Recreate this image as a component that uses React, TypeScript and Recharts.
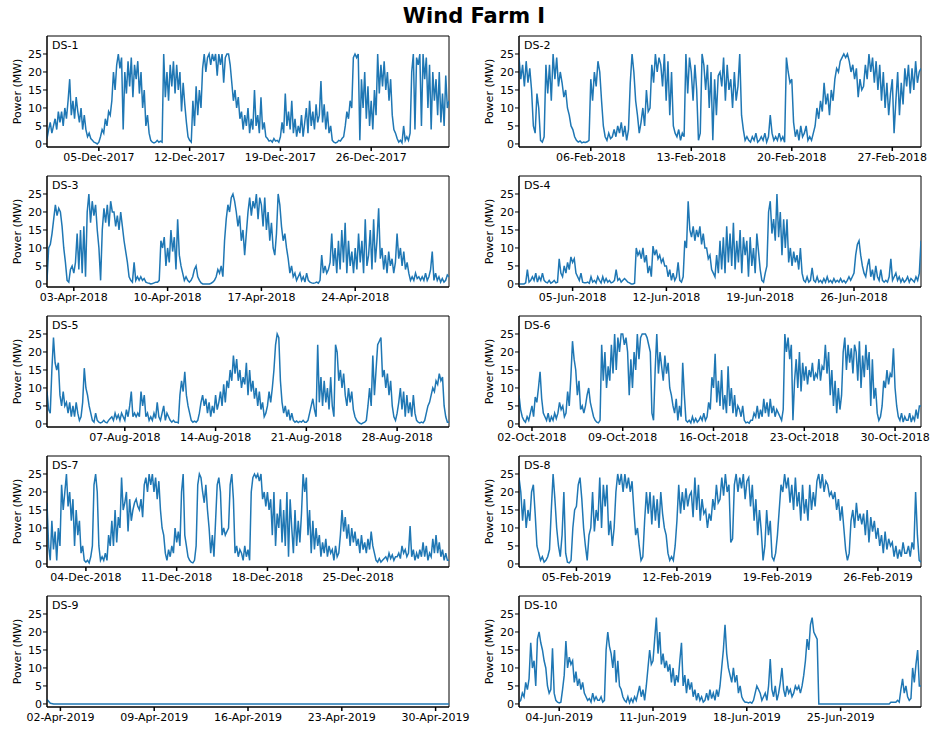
import { LineChart, Line, XAxis, YAxis, ReferenceArea } from "recharts";

const yTicks = [0, 5, 10, 15, 20, 25];

// DS-1, Dec 2017 (3-hourly, one row per day)
const ds1Values = [
  1.5, 4, 6, 3, 5, 7, 4, 9,
  6, 9, 5, 10, 7, 12, 18, 8,
  12, 7, 13, 9, 6, 10, 4, 8,
  4, 2, 3, 1.5, 1, 0.5, 0.3, 0,
  0.5, 2, 4, 3, 7, 5, 9, 8,
  12, 20, 15, 22, 25, 21, 24, 4,
  20, 14, 23, 16, 24, 13, 22, 18,
  23, 14, 20, 10, 15, 5, 8, 3,
  1, 0.5, 0.3, 0.5, 1, 0.5, 0.8, 0.5,
  25, 13, 20, 12, 22, 16, 23, 14,
  22, 15, 20, 9, 17, 11, 6, 2,
  1, 0.5, 12, 5, 16, 8, 15, 10,
  21, 25, 20, 24, 25, 22, 25, 23,
  25, 19, 25, 22, 25, 17, 24, 25,
  25, 22, 17, 12, 15, 10, 13, 7,
  9, 4, 8, 5, 10, 3, 7, 4,
  15, 5, 8, 3, 13, 4, 6, 2,
  1.5, 0.8, 1, 0.5, 1.5, 0.8, 1, 0.5,
  2, 6, 3, 14, 5, 9, 4, 12,
  3, 7, 2, 5, 3, 8, 2, 6,
  10, 3, 12, 5, 9, 4, 11, 6,
  8, 17.5, 6, 11, 4, 9, 3, 5,
  1, 0.5, 0.3, 0.5, 1, 0.8, 1.5, 2,
  5, 9, 7, 12, 10, 24, 25, 24,
  25, 1, 18, 10, 20, 7, 16, 5,
  12, 4, 15, 8, 25, 14, 22, 16,
  23, 15, 20, 12, 18, 8, 4, 3,
  1.5, 0.5, 1, 0.3, 5, 1, 2, 1,
  3, 20, 25, 4, 24, 22, 25, 5,
  25, 18, 24, 10, 22, 4, 20, 12,
  18, 8, 20, 6, 14, 5, 19, 10,
  12,
];
const ds1Ticks = [4, 11, 18, 25];
const ds1TickLabels = ["05-Dec-2017", "12-Dec-2017", "19-Dec-2017", "26-Dec-2017"];

// DS-2, Feb 2018
const ds2Values = [
  24, 18, 22, 16, 23, 17, 21, 15,
  5, 3, 14, 10, 1, 0.5, 2, 22,
  14, 22, 12, 25, 18, 24, 16, 20,
  17, 13, 15, 10, 8, 5, 4, 2,
  1, 0.5, 0.8, 0.3, 0.5, 0.4, 0.6, 1,
  18, 12, 20, 16, 23, 20, 12, 5,
  2, 1, 3, 1.5, 2, 4, 2, 5,
  3, 6, 2, 5, 1, 4, 17, 25,
  20, 12, 8, 3, 6, 10, 5, 15,
  9, 10, 22, 17, 25, 20, 24, 22,
  16, 25, 12, 23, 8, 20, 5, 3,
  2, 4, 1, 3, 2, 25, 14, 24,
  20, 12, 22, 15, 1, 3, 25, 22,
  15, 22, 10, 20, 1, 18, 8, 19,
  20, 16, 24, 12, 22, 15, 18, 10,
  20, 12, 16, 25, 8, 4, 1, 2,
  1, 0.5, 2, 1, 3, 0.5, 1, 2,
  1, 3, 0.5, 2, 8, 3, 1, 2,
  1, 3, 1, 2, 0.5, 24, 20, 17,
  18, 6, 2, 4, 1, 5, 2, 3,
  5, 1, 2, 1, 3, 5, 10, 7,
  12, 9, 17, 11, 14, 8, 15, 12,
  18, 21, 20, 23, 24, 25, 24, 25,
  23, 20, 22, 18, 21, 13, 18, 15,
  16, 22, 18, 25, 20, 24, 17, 23,
  15, 22, 12, 20, 10, 17, 8, 14,
  18, 3, 12, 20, 8, 17, 11, 21,
  16, 22, 14, 21, 15, 23, 17, 20,
  21,
];
const ds2Ticks = [5, 12, 19, 26];
const ds2TickLabels = ["06-Feb-2018", "13-Feb-2018", "20-Feb-2018", "27-Feb-2018"];

// DS-3, Apr 2018
const ds3Values = [
  1, 10, 11, 14, 18, 22, 19, 21,
  20, 16, 10, 6, 1, 0.5, 4, 5,
  3, 6, 14, 4, 15, 3, 16, 2,
  20, 25, 17, 23, 19, 22, 15, 10,
  1, 15, 21, 17, 22, 16, 23, 20,
  20, 16, 19, 15, 20, 16, 12, 9,
  6, 2, 1, 0.5, 6, 1, 2, 1,
  2, 1, 1.5, 0.5, 0.3, 0.2, 0, 0.1,
  0.3, 0.5, 0.5, 1, 12, 10, 13, 5,
  10, 6, 15, 9, 13, 4, 18, 8,
  5, 3, 1, 2, 1, 0.5, 1, 2,
  4, 5, 2, 1, 0.3, 0, 0, 0,
  0, 0, 0.2, 0.5, 1, 2, 4, 3,
  5, 2, 12, 18, 22, 20, 24, 25,
  23, 20, 16, 19, 12, 15, 8, 14,
  20, 24, 19, 23, 21, 25, 18, 24,
  22, 16, 24, 15, 20, 12, 17, 10,
  8, 14, 25, 22, 16, 12, 14, 10,
  7, 3, 5, 2, 3, 1, 2, 3,
  1, 2, 0.5, 3, 1, 0.5, 0.3, 0.2,
  0.3, 0.5, 0.2, 1, 8, 3, 5, 3,
  4, 6, 14, 5, 10, 3, 12, 4,
  15, 6, 17, 3, 12, 5, 9, 3,
  10, 4, 14, 6, 12, 3, 18, 5,
  8, 15, 4, 18, 6, 12, 21, 7,
  10, 4, 8, 3, 9, 5, 7, 3,
  6, 14, 7, 10, 5, 9, 4, 6,
  3, 1, 2, 1, 3, 1.5, 2, 1,
  2, 1, 3, 1, 2, 4, 9, 1,
  3, 1, 2, 0.5, 1.5, 0.5, 1, 2.5,
  2,
];
const ds3Ticks = [2, 9, 16, 23];
const ds3TickLabels = ["03-Apr-2018", "10-Apr-2018", "17-Apr-2018", "24-Apr-2018"];

// DS-4, Jun 2018
const ds4Values = [
  0, 0, 0, 0, 0.3, 4, 0.5, 1,
  2, 1, 3, 0.5, 2, 1, 3, 1,
  0.5, 0.3, 1, 0.2, 0.5, 1, 0.3, 0.5,
  7, 3, 2, 5, 3, 6, 4, 7.5,
  6, 7, 3, 2, 1, 3, 0.5, 0.3,
  0.3, 0.5, 0.2, 2, 0.5, 1, 0.3, 2,
  1, 0.3, 2, 0.5, 1.5, 0.5, 1, 0.3,
  0.5, 1, 4, 1, 1.5, 0.5, 1, 1.5,
  1, 0.5, 0.3, 0, 0, 0.2, 10, 8,
  9, 7, 10, 6, 8, 3, 5, 2,
  10.5, 8, 9.5, 7, 8, 6, 7, 5,
  5, 2, 4, 1, 3, 1, 2, 6,
  1, 0.5, 2, 12, 10, 23, 15, 13,
  16, 12, 15, 13, 16, 11, 14, 10,
  10, 7, 8, 4, 3, 2, 8, 3,
  12, 4, 13, 3, 16, 6, 14, 5,
  17, 4, 12, 6, 15, 3, 13, 8,
  12, 2, 13, 5, 10, 3, 14, 9,
  4, 1, 0.5, 3, 5, 20, 23, 14,
  18, 12, 25, 13, 20, 8, 18, 10,
  18, 6, 10, 5, 9, 6, 8, 4,
  10, 3, 1, 0.5, 2, 0.5, 1, 4.5,
  1, 0.5, 2, 0.5, 1, 0.3, 1.5, 0.5,
  2, 0.5, 1, 0.3, 1.5, 0.5, 1, 0.5,
  1.5, 0.5, 1, 0.3, 1, 2, 1, 2,
  3, 8, 11, 12, 8, 5, 3, 2,
  5, 7, 2, 4, 1, 5, 2, 1,
  4, 1, 0.5, 1, 0.5, 2, 7, 1,
  2, 3, 1, 2, 0.5, 1.5, 0.5, 1,
  2, 0.5, 1.5, 1, 0.5, 2, 1, 3,
  12,
];
const ds4Ticks = [4, 11, 18, 25];
const ds4TickLabels = ["05-Jun-2018", "12-Jun-2018", "19-Jun-2018", "26-Jun-2018"];

// DS-5, Aug 2018
const ds5Values = [
  9, 4, 3, 15, 24, 17, 15, 17,
  8, 5, 9, 5, 6, 3, 6, 2,
  5, 2, 6, 3, 1, 2, 6, 15.5,
  10, 8, 5, 3, 1, 0.5, 3, 1,
  0.5, 0.3, 0.5, 1, 0.5, 0.3, 1, 1.5,
  2, 1, 3, 1.5, 2.5, 1, 3, 2,
  1, 4, 2, 5, 9, 2, 3, 2,
  3, 2, 9, 5, 8, 2, 3, 1,
  2, 1, 3, 1.5, 6, 2, 1, 3,
  5, 1, 3, 2, 1, 0.5, 1, 0.5,
  0.5, 0.3, 8, 12, 9, 14.5, 8, 5,
  3, 1, 0.5, 0.8, 0.5, 1, 3, 6,
  8, 5, 7, 3, 6, 2, 5, 3,
  8, 4, 6, 9, 5, 11, 6, 12,
  10, 15, 12, 19, 14, 18, 12, 15,
  10, 13, 11, 17, 8, 15, 9, 12,
  7, 10, 5, 9, 4, 6, 2, 3,
  5, 9, 6, 10, 15, 22, 25, 24,
  12, 6, 3, 5, 2, 4, 1, 3,
  1, 0.5, 0.8, 0.4, 0.7, 0.5, 1, 0.5,
  0.5, 1, 3, 5, 7, 4, 2, 22,
  6, 13, 5, 12, 6, 10, 4, 13,
  5, 2, 22, 20, 12, 15, 10, 14,
  8, 5, 10, 6, 9, 4, 2, 1,
  0.5, 0.2, 0, 0.3, 0.5, 1, 5, 10,
  5, 19, 8, 15, 22, 23, 24, 13,
  15, 10, 14, 8, 12, 5, 2, 1,
  3, 6, 10, 4, 9, 2, 8, 3,
  6, 2, 8, 3, 1, 0.5, 0.3, 0.5,
  0.3, 1, 3, 5, 6, 8, 10, 9,
  12, 11, 14, 12, 13, 5, 2, 0.5,
  0.5,
];
const ds5Ticks = [6, 13, 20, 27];
const ds5TickLabels = ["07-Aug-2018", "14-Aug-2018", "21-Aug-2018", "28-Aug-2018"];

// DS-6, Oct 2018
const ds6Values = [
  8, 4, 2, 1, 0.5, 2, 1, 3,
  5, 2, 7.5, 6, 10, 14.5, 7, 3,
  2, 1, 3, 0.5, 2, 1, 3, 1.5,
  3, 6, 4, 5, 2, 3, 9, 5,
  13, 23, 18, 15, 8, 12, 4, 5,
  3, 5, 8, 10, 6, 4, 2, 1,
  0.5, 0.3, 1, 22, 12, 20, 10, 16,
  12, 22, 14, 25, 15, 24, 20, 25,
  25, 22, 24, 20, 8, 18, 10, 20,
  15, 25, 18, 24, 25, 25, 25, 24,
  22, 20, 3, 1, 15, 25, 14, 20,
  16, 12, 19, 14, 17, 10, 8, 5,
  3, 7, 1, 5, 2, 17, 8, 1,
  0.5, 1, 0.3, 2, 0.5, 1.5, 0.5, 1,
  2, 1, 3, 1, 2, 6, 4, 13,
  10, 19.5, 6, 12, 5, 15, 4, 8,
  3, 16, 5, 10, 3, 8, 2, 5,
  4, 2, 5, 1, 0.3, 0.5, 0.2, 1,
  1, 3, 2, 5, 1.5, 4, 2, 7,
  3, 6, 2, 7, 3, 5, 2, 4,
  3, 2, 1, 4, 25, 20, 24, 18,
  22, 1, 12, 18, 10, 20, 9, 17,
  12, 16, 11, 15, 13, 17, 12, 14,
  13, 18, 12, 16, 15, 22, 14, 20,
  8, 15, 5, 12, 3, 10, 4, 8,
  20, 24, 15, 22, 17, 21, 14, 22,
  20, 12, 23, 10, 19, 13, 22, 15,
  20, 5, 18, 7, 10, 3, 1, 2,
  5, 12, 10, 15, 11, 14, 13, 21,
  10, 5, 2, 1, 3, 0.5, 2, 1,
  1, 3, 0.5, 2, 1, 4, 1.5, 5,
  5,
];
const ds6Ticks = [1, 8, 15, 22, 29];
const ds6TickLabels = ["02-Oct-2018", "09-Oct-2018", "16-Oct-2018", "23-Oct-2018", "30-Oct-2018"];

// DS-7, Dec 2018
const ds7Values = [
  17, 5, 1, 12, 4, 9, 1, 10,
  5, 22, 15, 20, 25, 16, 20, 12,
  18, 5, 15, 8, 12, 3, 5, 1,
  0.5, 1, 0.3, 2, 5, 22, 25, 20,
  5, 1, 2, 1, 3, 1, 8, 5,
  12, 5, 15, 6, 13, 10, 24, 15,
  17, 20, 9, 18, 12, 15, 17, 18,
  16, 15, 18, 13, 22, 24, 20, 25,
  22, 25, 20, 24, 18, 23, 15, 10,
  8, 3, 1, 4, 2, 5, 3, 10,
  6, 9, 5, 20, 25, 8, 5, 2,
  1, 0.5, 0.3, 1, 5, 22, 25, 24,
  20, 17, 22, 15, 10, 3, 8, 2,
  12, 22, 24, 20, 8, 10, 8, 9,
  10, 22, 25, 18, 3, 5, 2, 4,
  3, 1, 5, 2, 4, 1, 20, 24,
  25, 24, 25, 23, 25, 18, 20, 16,
  20, 15, 18, 8, 20, 5, 14, 10,
  18, 6, 15, 5, 20, 2, 18, 10,
  3, 15, 5, 12, 6, 14, 25, 20,
  24, 8, 15, 3, 12, 4, 10, 5,
  8, 2, 6, 3, 7, 2, 5, 3,
  4, 1, 5, 2, 3, 8, 15, 9,
  13, 7, 11, 5, 10, 6, 9, 5,
  7, 3, 8, 4, 6, 3, 7, 4,
  9, 5, 3, 1, 0.5, 1.5, 0.5, 1,
  1.5, 2, 1, 3, 1.5, 2.5, 1, 2,
  2, 3, 1.5, 5, 3, 4, 2, 3,
  10.5, 2, 4, 1, 3, 1.5, 4, 2,
  6, 2, 5, 1, 3, 2, 7, 3,
  8, 3, 6, 2, 4, 1, 3, 1,
  1,
];
const ds7Ticks = [3, 10, 17, 24];
const ds7TickLabels = ["04-Dec-2018", "11-Dec-2018", "18-Dec-2018", "25-Dec-2018"];

// DS-8, Feb 2019
const ds8Values = [
  24, 20, 12, 18, 10, 15, 12, 20,
  22, 14, 5, 3, 1, 2, 0.5, 1,
  2, 4, 15, 25, 18, 10, 5, 2,
  8, 20, 3, 0.5, 0.3, 1, 10, 15,
  16, 22, 24, 18, 10, 5, 1, 8,
  10, 20, 9, 15, 12, 24, 10, 22,
  16, 22, 8, 12, 5, 10, 20, 25,
  22, 25, 20, 25, 21, 24, 20, 23,
  15, 8, 10, 5, 1, 2, 12, 20,
  14, 20, 11, 19, 12, 18, 10, 20,
  14, 10, 8, 3, 1, 2, 1, 5,
  12, 22, 14, 20, 15, 21, 16, 19,
  20, 13, 24, 15, 22, 12, 18, 14,
  15, 10, 14, 12, 18, 15, 22, 17,
  18, 24, 19, 25, 20, 22, 6, 7,
  22, 25, 20, 24, 21, 25, 18, 23,
  24, 16, 22, 12, 18, 8, 15, 9,
  1, 5, 15, 8, 12, 2, 1, 3,
  8, 15, 22, 20, 25, 21, 24, 17,
  22, 15, 24, 16, 20, 12, 22, 14,
  18, 12, 22, 15, 20, 16, 23, 25,
  21, 25, 20, 23, 22, 19, 20, 18,
  20, 15, 18, 12, 16, 10, 4, 1,
  3, 12, 15, 10, 17, 12, 14, 11,
  14, 8, 15, 6, 13, 9, 12, 7,
  10, 5, 8, 3, 9, 4, 7, 5,
  6, 2, 5, 1.5, 4, 2, 6, 3,
  3, 5, 2, 6, 4, 20, 8, 1,
  0.5,
];
const ds8Ticks = [4, 11, 18, 25];
const ds8TickLabels = ["05-Feb-2019", "12-Feb-2019", "19-Feb-2019", "26-Feb-2019"];

// DS-9, Apr 2019 (6-hourly; the farm sits at zero all month)
const ds9Values = [
  1.2, 0.2, 0, 0, 0, 0, 0, 0, 0, 0, 0, 0, 0, 0, 0, 0,
  0, 0, 0, 0, 0, 0, 0, 0, 0, 0, 0, 0, 0, 0, 0, 0,
  0, 0, 0, 0, 0, 0, 0, 0, 0, 0, 0, 0, 0, 0, 0, 0,
  0, 0, 0, 0, 0, 0, 0, 0, 0, 0, 0, 0, 0, 0, 0, 0,
  0, 0, 0, 0, 0, 0, 0, 0, 0, 0, 0, 0, 0, 0, 0, 0,
  0, 0, 0, 0, 0, 0, 0, 0, 0, 0, 0, 0, 0, 0, 0, 0,
  0, 0, 0, 0, 0, 0, 0, 0, 0, 0, 0, 0, 0, 0, 0, 0,
  0, 0, 0, 0, 0, 0, 0, 0, 0,
];
const ds9Ticks = [1, 8, 15, 22, 29];
const ds9TickLabels = ["02-Apr-2019", "09-Apr-2019", "16-Apr-2019", "23-Apr-2019", "30-Apr-2019"];

// DS-10, Jun 2019
const ds10Values = [
  0.5, 1, 3, 2, 6, 4, 7, 17,
  10, 12, 5, 18, 20, 17, 15, 12,
  10, 5, 3, 4, 15.5, 3, 1, 0.5,
  0.3, 0.5, 4, 8, 17.5, 10, 13, 11,
  12, 6, 9, 5, 7, 4, 6, 3,
  2, 1, 1.5, 0.5, 3, 1, 2, 1,
  1, 2, 0.5, 1, 15, 20, 16, 14,
  10, 15, 6, 12, 5, 4, 2, 1,
  0.5, 2, 0.3, 1.5, 0.5, 2, 1, 3,
  5, 2, 4, 1, 5, 10, 15, 11,
  12, 18, 24, 14, 20, 11, 14, 10,
  12, 9, 11, 6, 10, 5, 8, 6,
  12, 17, 5, 8, 3, 7, 4, 6,
  2, 4, 1, 3, 1, 2, 0.5, 1,
  3, 1, 4, 1.5, 3, 1, 4, 2,
  5, 10, 15, 22, 14, 10, 8, 6,
  10, 6, 8, 3, 5, 2, 1, 0.5,
  0.5, 0.3, 0.5, 0.2, 1, 3, 5, 4,
  3, 1, 2, 3, 1, 5, 12.5, 4,
  2, 5, 1, 3, 6, 10, 4, 2,
  5, 3, 4, 2, 3, 5, 4, 5,
  3, 5, 8, 12, 18, 15, 22, 24,
  20, 19, 18, 0, 0, 0, 0, 0,
  0, 0, 0, 0, 0, 0, 0, 0,
  0, 0, 0, 0, 0, 0, 0, 0,
  0, 0, 0, 0, 0, 0, 0, 0,
  0, 0, 0, 0, 0, 0, 0, 0,
  0, 0, 0, 0, 0, 0, 0.5, 0.5,
  0.5, 0.5, 1, 0.5, 4, 7, 3, 5,
  2, 1, 1.5, 10, 6, 11, 15, 5,
  5,
];
const ds10Ticks = [3, 10, 17, 24];
const ds10TickLabels = ["04-Jun-2019", "11-Jun-2019", "18-Jun-2019", "25-Jun-2019"];

type Panel = {
  name: string;
  days: number;
  perDay: number;
  values: number[];
  ticks: number[];
  labels: string[];
};

const panels: Panel[] = [
  { name: "DS-1", days: 31, perDay: 8, values: ds1Values, ticks: ds1Ticks, labels: ds1TickLabels },
  { name: "DS-2", days: 28, perDay: 8, values: ds2Values, ticks: ds2Ticks, labels: ds2TickLabels },
  { name: "DS-3", days: 30, perDay: 8, values: ds3Values, ticks: ds3Ticks, labels: ds3TickLabels },
  { name: "DS-4", days: 30, perDay: 8, values: ds4Values, ticks: ds4Ticks, labels: ds4TickLabels },
  { name: "DS-5", days: 31, perDay: 8, values: ds5Values, ticks: ds5Ticks, labels: ds5TickLabels },
  { name: "DS-6", days: 31, perDay: 8, values: ds6Values, ticks: ds6Ticks, labels: ds6TickLabels },
  { name: "DS-7", days: 31, perDay: 8, values: ds7Values, ticks: ds7Ticks, labels: ds7TickLabels },
  { name: "DS-8", days: 28, perDay: 8, values: ds8Values, ticks: ds8Ticks, labels: ds8TickLabels },
  { name: "DS-9", days: 30, perDay: 4, values: ds9Values, ticks: ds9Ticks, labels: ds9TickLabels },
  { name: "DS-10", days: 30, perDay: 8, values: ds10Values, ticks: ds10Ticks, labels: ds10TickLabels },
];

const FONT = "'DejaVu Sans', sans-serif";
const LINE_COLOR = "#1f77b4";
const Y_MIN = -0.85;
const Y_MAX = 30;

const PLOT_W = 402;
const PLOT_H = 111;
const AXIS_W = 47;
const AXIS_H = 30;
const TOP_PAD = 10;
const RIGHT_PAD = 30;
const ROW_TOP = [36, 176, 316, 456, 596];
const COL_LEFT = [47, 519];

const tickStyle = { fill: "#000", fontSize: 11, fontFamily: FONT };

function PowerLabel(props: any) {
  const vb = props.viewBox ?? props;
  const x = (vb.x ?? 0) + 17;
  const y = (vb.y ?? 0) + (vb.height ?? PLOT_H) / 2;
  return (
    <text
      x={x}
      y={y}
      transform={`rotate(-90, ${x}, ${y})`}
      textAnchor="middle"
      dominantBaseline="central"
      fontSize={11}
      fontFamily={FONT}
      fill="#000"
    >
      Power (MW)
    </text>
  );
}

function PanelChart({ panel, left, top }: { panel: Panel; left: number; top: number }) {
  // x is measured in days from the first of the month
  const data = panel.values.map((v, i) => ({ t: i / panel.perDay, power: v }));
  return (
    <div style={{ position: "absolute", left, top }}>
      <LineChart
        width={AXIS_W + PLOT_W + RIGHT_PAD}
        height={TOP_PAD + PLOT_H + AXIS_H}
        data={data}
        margin={{ top: TOP_PAD, right: RIGHT_PAD, bottom: 0, left: 0 }}
      >
        <XAxis
          type="number"
          dataKey="t"
          domain={[0, panel.days]}
          allowDataOverflow
          ticks={panel.ticks}
          interval={0}
          tickFormatter={(v: number) => panel.labels[panel.ticks.indexOf(v)] ?? ""}
          height={AXIS_H}
          tickSize={4}
          tickMargin={2}
          stroke="#000"
          tickLine={{ stroke: "#000", strokeWidth: 1.5 }}
          tick={tickStyle}
        />
        <YAxis
          type="number"
          domain={[Y_MIN, Y_MAX]}
          allowDataOverflow
          ticks={yTicks}
          interval={0}
          width={AXIS_W}
          tickSize={4}
          tickMargin={1}
          stroke="#000"
          tick={tickStyle}
          label={PowerLabel}
        />
        <ReferenceArea
          x1={0}
          x2={panel.days}
          y1={Y_MIN}
          y2={Y_MAX}
          fill="none"
          stroke="#000"
          strokeWidth={1}
          label={{
            value: panel.name,
            position: "insideTopLeft",
            offset: 5,
            fill: "#000",
            fontSize: 11,
            fontFamily: FONT,
          }}
        />
        <Line
          type="linear"
          dataKey="power"
          stroke={LINE_COLOR}
          strokeWidth={1.5}
          dot={false}
          isAnimationActive={false}
        />
      </LineChart>
    </div>
  );
}

export default function App() {
  return (
    <div
      style={{
        position: "absolute",
        left: 0,
        top: 0,
        width: 930,
        height: 731,
        background: "#fff",
        overflow: "hidden",
      }}
    >
      <svg width={930} height={30} style={{ position: "absolute", left: 0, top: 0 }}>
        <text
          x={474}
          y={23}
          textAnchor="middle"
          fontSize={21}
          fontWeight="bold"
          fontFamily={FONT}
          fill="#000"
        >
          Wind Farm I
        </text>
      </svg>
      {panels.map((panel, i) => (
        <PanelChart
          key={panel.name}
          panel={panel}
          left={COL_LEFT[i % 2] - AXIS_W}
          top={ROW_TOP[Math.floor(i / 2)] - TOP_PAD}
        />
      ))}
    </div>
  );
}
